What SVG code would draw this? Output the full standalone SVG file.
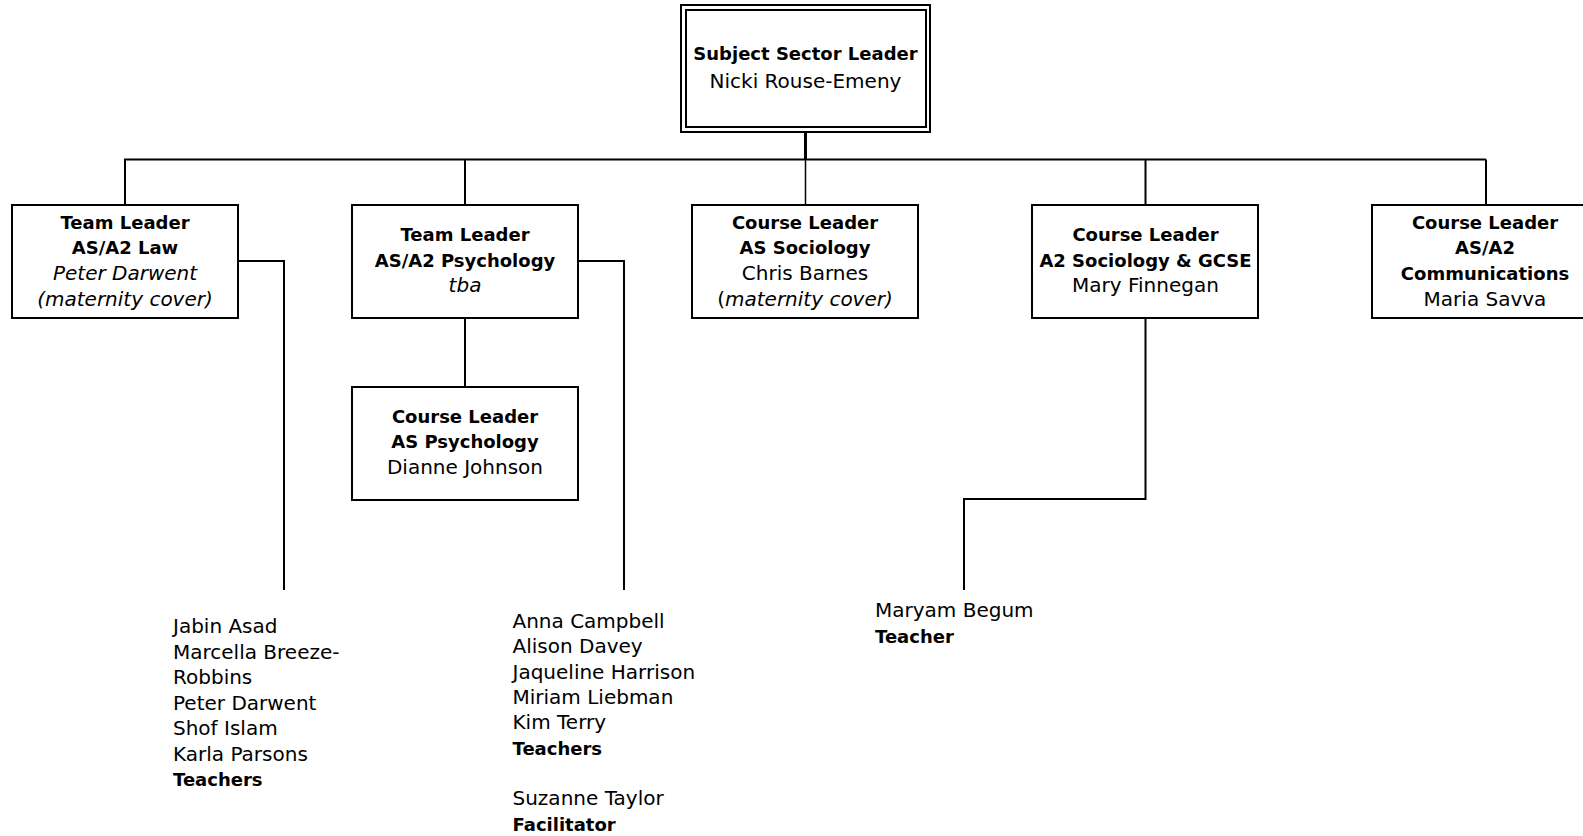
<svg xmlns="http://www.w3.org/2000/svg" width="1583" height="836" viewBox="0 0 1583 836">
<style>
  .box { fill: #ffffff; stroke: #000000; stroke-width: 2; }
  .ln { fill: none; stroke: #000000; stroke-width: 2; }
  text { font-family: "DejaVu Sans", sans-serif; fill: #000000; }
  .t { font-size: 20px; }
  .b { font-size: 18px; font-weight: bold; }
  .i { font-style: italic; }
  .c { text-anchor: middle; }
</style>
<rect x="0" y="0" width="1583" height="836" fill="#ffffff"/>
<g id="connectors">
  <line class="ln" x1="805.5" y1="132" x2="805.5" y2="160" style="stroke-width:3"/>
  <line class="ln" x1="124" y1="159.5" x2="1486" y2="159.5"/>
  <line class="ln" x1="125" y1="159.5" x2="125" y2="205"/>
  <line class="ln" x1="465" y1="159.5" x2="465" y2="205"/>
  <line class="ln" x1="805.5" y1="159.5" x2="805.5" y2="205" style="stroke-width:1.5"/>
  <line class="ln" x1="1145.5" y1="159.5" x2="1145.5" y2="205"/>
  <line class="ln" x1="1486" y1="159.5" x2="1486" y2="205"/>
  <line class="ln" x1="465" y1="318" x2="465" y2="387"/>
  <polyline class="ln" points="238,261 284,261 284,590"/>
  <polyline class="ln" points="578,261 624,261 624,590"/>
  <polyline class="ln" points="1145.5,318 1145.5,499 964,499 964,590"/>
</g>
<g id="ssl">
  <rect class="box" x="681" y="5" width="249" height="127"/>
  <rect class="box" x="686" y="10" width="240" height="117"/>
  <text class="b c" x="805.5" y="60">Subject Sector Leader</text>
  <text class="t c" x="805.5" y="88">Nicki Rouse-Emeny</text>
</g>
<g id="law">
  <rect class="box" x="12" y="205" width="226" height="113"/>
  <text class="b c" x="125" y="228.5">Team Leader</text>
  <text class="b c" x="125" y="254">AS/A2 Law</text>
  <text class="t i c" x="125" y="280">Peter Darwent</text>
  <text class="t i c" x="125" y="306">(maternity cover)</text>
</g>
<g id="psych">
  <rect class="box" x="352" y="205" width="226" height="113"/>
  <text class="b c" x="465" y="241">Team Leader</text>
  <text class="b c" x="465" y="266.5">AS/A2 Psychology</text>
  <text class="t i c" x="465" y="292">tba</text>
</g>
<g id="assoc">
  <rect class="box" x="692" y="205" width="226" height="113"/>
  <text class="b c" x="805" y="228.5">Course Leader</text>
  <text class="b c" x="805" y="254">AS Sociology</text>
  <text class="t c" x="805" y="280">Chris Barnes</text>
  <text class="t c" x="805" y="306">(<tspan class="i">maternity cover)</tspan></text>
</g>
<g id="a2soc">
  <rect class="box" x="1032" y="205" width="226" height="113"/>
  <text class="b c" x="1145.5" y="241">Course Leader</text>
  <text class="b c" x="1145.5" y="266.5">A2 Sociology &amp; GCSE</text>
  <text class="t c" x="1145.5" y="292">Mary Finnegan</text>
</g>
<g id="comms">
  <rect class="box" x="1372" y="205" width="226" height="113"/>
  <text class="b c" x="1485" y="228.5">Course Leader</text>
  <text class="b c" x="1485" y="254">AS/A2</text>
  <text class="b c" x="1485" y="280">Communications</text>
  <text class="t c" x="1485" y="306">Maria Savva</text>
</g>
<g id="aspsych">
  <rect class="box" x="352" y="387" width="226" height="113"/>
  <text class="b c" x="465" y="423">Course Leader</text>
  <text class="b c" x="465" y="448">AS Psychology</text>
  <text class="t c" x="465" y="473.5">Dianne Johnson</text>
</g>
<g id="law-teachers">
  <text class="t" x="173" y="633">Jabin Asad</text>
  <text class="t" x="173" y="658.5">Marcella Breeze-</text>
  <text class="t" x="173" y="684">Robbins</text>
  <text class="t" x="173" y="709.5">Peter Darwent</text>
  <text class="t" x="173" y="735">Shof Islam</text>
  <text class="t" x="173" y="760.5">Karla Parsons</text>
  <text class="b" x="173" y="786">Teachers</text>
</g>
<g id="psych-teachers">
  <text class="t" x="512.5" y="628">Anna Campbell</text>
  <text class="t" x="512.5" y="653.3">Alison Davey</text>
  <text class="t" x="512.5" y="678.6">Jaqueline Harrison</text>
  <text class="t" x="512.5" y="704">Miriam Liebman</text>
  <text class="t" x="512.5" y="729.2">Kim Terry</text>
  <text class="b" x="512.5" y="754.5">Teachers</text>
  <text class="t" x="512.5" y="805.3">Suzanne Taylor</text>
  <text class="b" x="512.5" y="830.5">Facilitator</text>
</g>
<g id="soc-teacher">
  <text class="t" x="875" y="617.3">Maryam Begum</text>
  <text class="b" x="875" y="642.7">Teacher</text>
</g>
</svg>
